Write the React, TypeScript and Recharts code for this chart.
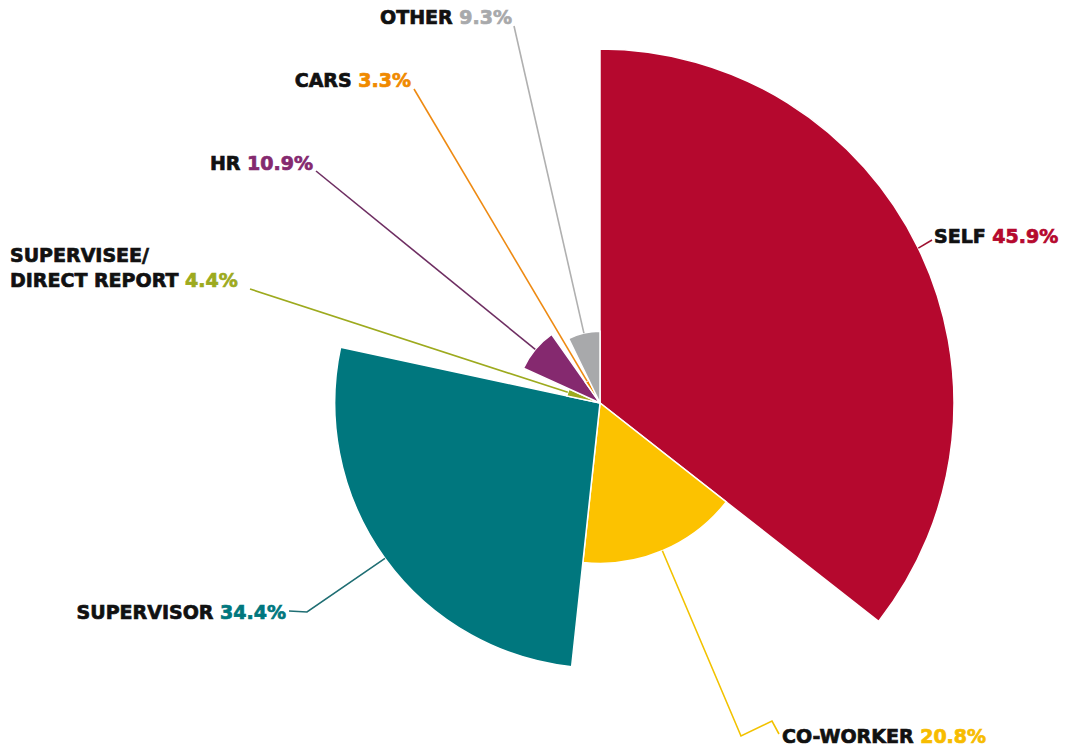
import { Cell, Pie, PieChart } from "recharts";

const categories = ["SELF", "CO-WORKER", "SUPERVISOR", "SUPERVISEE/|DIRECT REPORT", "HR", "CARS", "OTHER"];
const shares = [45.9, 20.8, 34.4, 4.4, 10.9, 3.3, 9.3];
const colors = ["#B5082E", "#FCC200", "#00777E", "#9DAA1E", "#85296F", "#F08A00", "#A8A9AB"];
const lineColors = ["#9E1030", "#F2C200", "#1F6E73", "#9DAA1E", "#6E2E62", "#EE8A12", "#B0B0B0"];
const pctColors = ["#B5082E", "#F7BC00", "#00777E", "#9DAA1E", "#85296F", "#F08A00", "#A8A9AB"];

// label placement (layout only)
const labelPos: { x: number; y: number; anchor: "start" | "end"; path: number[][] }[] = [
  { x: 934, y: 243, anchor: "start", path: [[932, 240]] },
  { x: 782, y: 743, anchor: "start", path: [[741, 736], [772, 721], [779, 734]] },
  { x: 286, y: 619, anchor: "end", path: [[307, 612], [289, 611]] },
  { x: 10, y: 262, anchor: "start", path: [[250, 289]] },
  { x: 313, y: 170, anchor: "end", path: [[316, 171]] },
  { x: 411, y: 87, anchor: "end", path: [[414, 89]] },
  { x: 512, y: 24, anchor: "end", path: [[514, 26]] },
];

const data = categories.map((name, i) => ({ name, value: shares[i] }));
const maxShare = Math.max(...shares);
const radiusFor = (v: number) => (v / maxShare) * 354;
const RAD = Math.PI / 180;

const makeLabel = (idx: number) => (props: any) => {
  if (props.index !== idx) return <g />;
  const { cx, cy, midAngle, outerRadius } = props;
  const sx = cx + Math.cos(-midAngle * RAD) * outerRadius;
  const sy = cy + Math.sin(-midAngle * RAD) * outerRadius;
  const lp = labelPos[idx];
  const pts = [[sx, sy], ...lp.path].map((p) => p.join(",")).join(" ");
  const lines = categories[idx].split("|");
  return (
    <g>
      <polyline points={pts} fill="none" stroke={lineColors[idx]} strokeWidth={1.6} />
      {lines.map((ln, k) => (
        <text
          key={k}
          x={lp.x}
          y={lp.y + k * 25}
          textAnchor={lp.anchor}
          fontFamily="'DejaVu Sans', sans-serif"
          fontWeight={700}
          fontSize={19}
          fill="#111"
          stroke="#111"
          strokeWidth={0.7}
        >
          {ln}
          {k === lines.length - 1 && (
            <tspan fill={pctColors[idx]} stroke={pctColors[idx]}>{` ${shares[idx].toFixed(1)}%`}</tspan>
          )}
        </text>
      ))}
    </g>
  );
};

export default function App() {
  return (
    <div style={{ position: "absolute", left: 0, top: 0, background: "#fff" }}>
      <PieChart width={1065} height={750} margin={{ top: 0, right: 0, bottom: 0, left: 0 }}>
        {shares.map((s, i) => (
          <Pie
            key={i}
            data={data}
            dataKey="value"
            cx={600}
            cy={403}
            innerRadius={0}
            outerRadius={radiusFor(s)}
            startAngle={90}
            endAngle={-270}
            isAnimationActive={false}
            labelLine={false}
            label={makeLabel(i)}
          >
            {data.map((d, j) => (
              <Cell
                key={d.name}
                fill={j === i ? colors[i] : "transparent"}
                stroke={j === i ? "#fff" : "none"}
                strokeWidth={1.5}
              />
            ))}
          </Pie>
        ))}
      </PieChart>
    </div>
  );
}
